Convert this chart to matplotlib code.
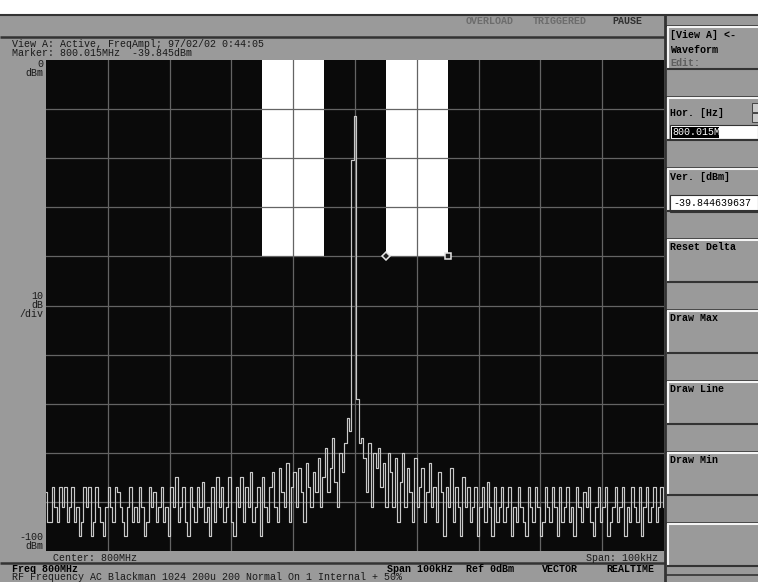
# Screen capture of a realtime spectrum analyzer (View A, FreqAmpl)
# showing a single tone at 800 MHz with a limit mask drawn over it.

import numpy as np
import matplotlib.pyplot as plt
from matplotlib.patches import Rectangle

# screen parameters
width_px  = 758
height_px = 582
dpi       = 100
font      = 'Liberation Mono'
fsize     = 7.2
gray      = '#9a9a9a'
dark      = '#333333'
light     = '#f4f4f4'
screen_bg = '#0a0a0a'
grid_col  = '#646464'
trace_col = '#c8c8c8'
plot_box  = (46, 60, 664, 551) # left, top, right, bottom [px]

# measurement parameters
span       = 100 # kHz
ref_level  = 0   # dBm
db_per_div = 10
n_div      = 10

# trace (dBm), one value per displayed bin, left to right
trace_dbm = [
    -88, -94, -94, -87, -91, -94, -87, -91, -87, -94, -91, -87, -94, -91, -97, -94,
    -87, -91, -87, -97, -94, -87, -91, -94, -97, -91, -87, -91, -94, -87, -88, -91,
    -94, -97, -91, -87, -94, -91, -94, -87, -91, -97, -94, -87, -91, -88, -94, -91,
    -87, -94, -91, -97, -87, -91, -85, -94, -91, -87, -94, -97, -87, -91, -94, -87,
    -91, -86, -94, -91, -97, -87, -94, -85, -91, -87, -94, -91, -85, -94, -97, -87,
    -91, -85, -94, -87, -91, -84, -94, -91, -87, -97, -85, -91, -94, -87, -84, -91,
    -94, -83, -88, -91, -82, -94, -87, -84, -91, -83, -88, -94, -82, -87, -91, -84,
    -88, -81, -91, -85, -79, -88, -83, -77, -86, -91, -80, -84, -78, -73, -75.5, -20.4,
    -11.4, -69, -78, -77, -81, -88, -78, -91, -80, -83, -79, -87, -82, -91, -80, -84,
    -91, -81, -94, -86, -80, -91, -83, -88, -94, -81, -91, -87, -83, -94, -88, -82,
    -91, -87, -94, -84, -88, -97, -87, -91, -83, -94, -87, -91, -97, -85, -91, -87,
    -94, -91, -87, -97, -91, -87, -94, -86, -91, -97, -87, -94, -91, -87, -94, -91,
    -87, -97, -91, -94, -87, -91, -94, -97, -87, -91, -94, -87, -91, -97, -94, -87,
    -91, -94, -87, -91, -97, -87, -94, -91, -87, -94, -91, -97, -87, -91, -94, -88,
    -91, -87, -94, -97, -91, -87, -94, -91, -87, -97, -94, -91, -87, -94, -91, -87,
    -97, -91, -94, -87, -91, -94, -87, -97, -91, -87, -94, -91, -87, -94, -91, -87, -91,
]

# limit mask regions (kHz offset from center) and their floor (dBm)
mask_spans = [(-15, -5), (5, 15)]
mask_floor = -40

# delta markers (kHz offset, dBm)
marker_freqs  = [5, 15]
marker_levels = [-40, -40]

# screen texts
status_texts  = ['OVERLOAD', 'TRIGGERED', 'PAUSE']
header_lines  = ['View A: Active, FreqAmpl; 97/02/02 0:44:05',
                 'Marker: 800.015MHz  -39.845dBm']
footer_bold   = ['Freq 800MHz', 'Span 100kHz', 'Ref 0dBm', 'VECTOR', 'REALTIME']
footer_line   = 'RF Frequency AC Blackman 1024 200u 200 Normal On 1 Internal + 50%'
button_labels = ['Reset Delta', 'Draw Max', 'Draw Line', 'Draw Min', '']
hor_value     = '800.015M'
ver_value     = '-39.844639637'


def txt(ax, x, y, s, **kw):
    """
    Put monospace text on the screen axes (pixel coordinates).
    """
    kw.setdefault('fontsize', fsize)
    kw.setdefault('va', 'center')
    kw.setdefault('color', 'black')
    ax.text(x, y, s, family=font, **kw)


def hline(ax, x0, x1, y, color, lw=1.0):
    ax.plot([x0, x1], [y, y], color=color, lw=lw, solid_capstyle='butt')


def vline(ax, x, y0, y1, color, lw=1.0):
    ax.plot([x, x], [y0, y1], color=color, lw=lw, solid_capstyle='butt')


def draw_button(ax, top, height=42):
    """
    Raised softkey in the right panel: light top/left edge, dark bottom edge.
    """
    hline(ax, 666, width_px, top - 1.5, dark, 1.2)
    hline(ax, 667, width_px, top, light, 1.5)
    vline(ax, 667.5, top, top + height, light, 1.5)
    hline(ax, 667, width_px, top + height, dark, 1.5)


def draw_frame(fig):
    """
    Gray instrument frame, status bars, labels and softkeys.
    """
    bg = fig.add_axes([0, 0, 1, 1])
    bg.set_xlim(0, width_px)
    bg.set_ylim(height_px, 0)
    bg.axis('off')

    bg.add_patch(Rectangle((0, 14), width_px, height_px - 14, color=gray, lw=0))
    hline(bg, 0, width_px, 14.5, dark, 1.5)
    hline(bg, 0, 665, 37, dark, 1.8)
    hline(bg, 0, 665, 563, dark, 1.8)
    vline(bg, 665, 14, height_px, dark, 2.0)

    # status bar
    txt(bg, 466, 21, status_texts[0], weight='bold', color='#6c6c6c')
    txt(bg, 533, 21, status_texts[1], weight='bold', color='#6c6c6c')
    txt(bg, 612, 21, status_texts[2], weight='bold', color='#303030')

    # header
    txt(bg, 12, 44, header_lines[0], color='#1a1a1a')
    txt(bg, 12, 53, header_lines[1], color='#1a1a1a')

    # vertical scale labels
    txt(bg, 43, 64, str(ref_level), ha='right', color='#1a1a1a')
    txt(bg, 43, 73, 'dBm', ha='right', color='#1a1a1a')
    txt(bg, 43, 296, str(db_per_div), ha='right', color='#1a1a1a')
    txt(bg, 43, 305, 'dB', ha='right', color='#1a1a1a')
    txt(bg, 43, 314, '/div', ha='right', color='#1a1a1a')
    txt(bg, 43, 537, str(ref_level - db_per_div*n_div), ha='right', color='#1a1a1a')
    txt(bg, 43, 546, 'dBm', ha='right', color='#1a1a1a')

    # footer
    txt(bg, 53, 558, 'Center: 800MHz', color='#1a1a1a')
    txt(bg, 658, 558, 'Span: ' + str(span) + 'kHz', ha='right', color='#1a1a1a')
    for x, s in zip([12, 387, 466, 542, 606], footer_bold):
        txt(bg, x, 569, s, weight='bold')
    txt(bg, 12, 577.5, footer_line, color='#1a1a1a')

    # softkeys
    draw_button(bg, 27)
    txt(bg, 670, 35, '[View A] <-', weight='bold')
    txt(bg, 670, 50, 'Waveform', weight='bold')
    txt(bg, 670, 63, 'Edit:', weight='bold', color='#5e5e5e')

    draw_button(bg, 98)
    txt(bg, 670, 113, 'Hor. [Hz]', weight='bold')
    bg.add_patch(Rectangle((752, 103), 6, 9, fc='#c8c8c8', ec=dark, lw=0.6))
    bg.add_patch(Rectangle((752, 113), 6, 9, fc='#c8c8c8', ec=dark, lw=0.6))
    bg.add_patch(Rectangle((670, 125), 88, 14, fc='white', ec=dark, lw=0.8))
    bg.add_patch(Rectangle((672, 126.5), 47, 11, fc='black', lw=0))
    txt(bg, 672, 132, hor_value, color='white')

    draw_button(bg, 169)
    txt(bg, 670, 177, 'Ver. [dBm]', weight='bold')
    bg.add_patch(Rectangle((670, 195), 88, 17, fc='white', ec=dark, lw=0.8))
    txt(bg, 673, 203.5, ver_value)

    for i, label in enumerate(button_labels):
        top = 240 + i*71
        draw_button(bg, top)
        txt(bg, 670, top + 7, label, weight='bold')
    hline(bg, 666, width_px, 575, dark, 1.2)


def draw_screen(fig):
    """
    Black spectrum screen with grid, limit mask, trace and markers.
    """
    left, top, right, bottom = plot_box
    ax = fig.add_axes([left/width_px, 1 - bottom/height_px,
                       (right - left)/width_px, (bottom - top)/height_px])
    ax.set_facecolor(screen_bg)
    ax.set_xlim(-span/2, span/2)
    ax.set_ylim(ref_level - db_per_div*n_div, ref_level)
    ax.set_xticks(np.linspace(-span/2, span/2, n_div + 1)[1:-1])
    ax.set_yticks(np.arange(ref_level - db_per_div*(n_div - 1), ref_level, db_per_div))
    ax.tick_params(length=0, labelbottom=False, labelleft=False)
    ax.set_axisbelow(False)
    ax.grid(color=grid_col, lw=0.9)
    for s in ax.spines.values():
        s.set_visible(False)

    # limit mask
    for f0, f1 in mask_spans:
        ax.add_patch(Rectangle((f0, mask_floor), f1 - f0, ref_level - mask_floor,
                               color='white', lw=0, zorder=1))

    # trace
    freqs = np.linspace(-span/2, span/2, len(trace_dbm))
    ax.plot(freqs, trace_dbm, drawstyle='steps-mid', color=trace_col, lw=0.85,
            zorder=3)

    # markers
    ax.plot(marker_freqs[0], marker_levels[0], 'D', ms=4.5, mfc='#202020',
            mec='#e6e6e6', mew=1.1, zorder=4)
    ax.plot(marker_freqs[1], marker_levels[1], 's', ms=5, mfc='#202020',
            mec='#e6e6e6', mew=1.1, zorder=4)
    return ax


def main():
    fig = plt.figure(figsize=(width_px/dpi, height_px/dpi), dpi=dpi)
    fig.patch.set_facecolor('white')
    draw_frame(fig)
    draw_screen(fig)
    fig.savefig('out.png', dpi=dpi)


if __name__ == "__main__":
    main()
